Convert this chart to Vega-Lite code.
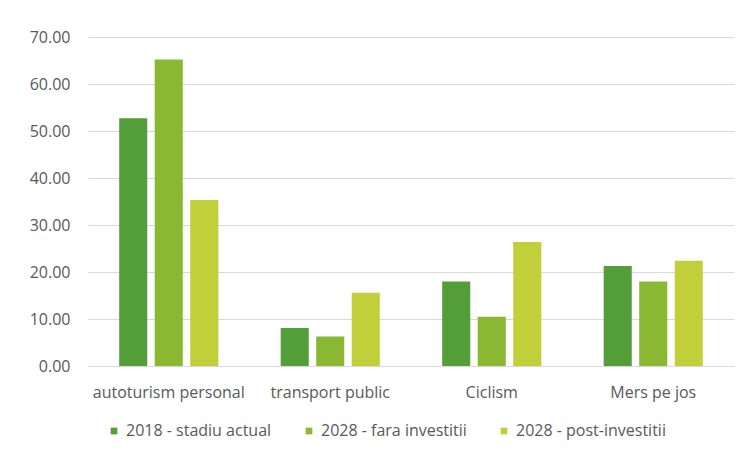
{
  "$schema": "https://vega.github.io/schema/vega-lite/v6.json",
  "width": 646,
  "height": 329,
  "autosize": {"type": "none"},
  "padding": {"left": 88, "top": 37, "right": 14, "bottom": 101},
  "background": "#ffffff",
  "data": {
    "values": [
      {"mode": "autoturism personal", "series": "2018 - stadiu actual", "value": 52.7},
      {"mode": "autoturism personal", "series": "2028 - fara investitii", "value": 65.2},
      {"mode": "autoturism personal", "series": "2028 - post-investitii", "value": 35.3},
      {"mode": "transport public", "series": "2018 - stadiu actual", "value": 8.1},
      {"mode": "transport public", "series": "2028 - fara investitii", "value": 6.3},
      {"mode": "transport public", "series": "2028 - post-investitii", "value": 15.6},
      {"mode": "Ciclism", "series": "2018 - stadiu actual", "value": 18.0},
      {"mode": "Ciclism", "series": "2028 - fara investitii", "value": 10.5},
      {"mode": "Ciclism", "series": "2028 - post-investitii", "value": 26.4},
      {"mode": "Mers pe jos", "series": "2018 - stadiu actual", "value": 21.3},
      {"mode": "Mers pe jos", "series": "2028 - fara investitii", "value": 18.0},
      {"mode": "Mers pe jos", "series": "2028 - post-investitii", "value": 22.4}
    ]
  },
  "mark": {"type": "bar"},
  "encoding": {
    "x": {
      "field": "mode",
      "type": "nominal",
      "sort": ["autoturism personal", "transport public", "Ciclism", "Mers pe jos"],
      "scale": {"paddingInner": 0.34, "paddingOuter": 0.17},
      "axis": {
        "title": null,
        "labelAngle": 0,
        "ticks": false,
        "domainColor": "#d9d9d9",
        "domainWidth": 1,
        "labelPadding": 18,
        "labelFont": "Open Sans",
        "labelFontSize": 16,
        "labelColor": "#595959"
      }
    },
    "xOffset": {
      "field": "series",
      "type": "nominal",
      "sort": ["2018 - stadiu actual", "2028 - fara investitii", "2028 - post-investitii"],
      "scale": {"paddingInner": 0.21, "paddingOuter": 0.105}
    },
    "y": {
      "field": "value",
      "type": "quantitative",
      "scale": {"domain": [0, 70], "nice": false},
      "axis": {
        "title": null,
        "values": [0, 10, 20, 30, 40, 50, 60, 70],
        "format": ".2f",
        "domain": false,
        "ticks": false,
        "gridColor": "#d9d9d9",
        "gridWidth": 1,
        "labelPadding": 18,
        "labelFont": "Open Sans",
        "labelFontSize": 16,
        "labelColor": "#595959"
      }
    },
    "color": {
      "field": "series",
      "type": "nominal",
      "scale": {
        "domain": ["2018 - stadiu actual", "2028 - fara investitii", "2028 - post-investitii"],
        "range": ["#549e39", "#8ab833", "#c0cf3a"]
      },
      "legend": {
        "title": null,
        "orient": "none",
        "direction": "horizontal",
        "legendX": 18,
        "legendY": 386,
        "symbolType": "square",
        "symbolSize": 45,
        "symbolStrokeWidth": 0,
        "labelOffset": 4,
        "columnPadding": 29,
        "labelFont": "Open Sans",
        "labelFontSize": 16,
        "labelColor": "#595959"
      }
    }
  },
  "config": {
    "view": {"stroke": null}
  }
}
